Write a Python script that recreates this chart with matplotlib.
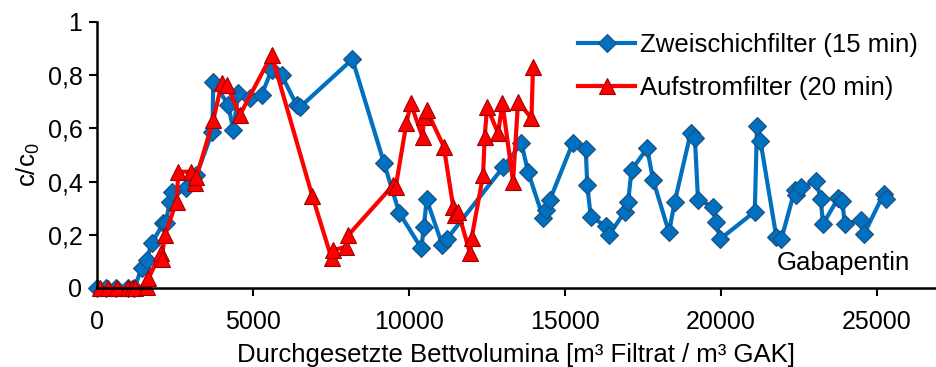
import matplotlib
matplotlib.use('Agg')
import matplotlib.pyplot as plt
from matplotlib.ticker import FuncFormatter

plt.rcParams['font.family'] = ['Liberation Sans', 'DejaVu Sans']
plt.rcParams['mathtext.fontset'] = 'custom'
plt.rcParams['mathtext.rm'] = 'Liberation Sans'
plt.rcParams['mathtext.it'] = 'Liberation Sans'

# Zweischichtfilter (15 min)
zs_x = [0, 300, 600, 1000, 1200, 1430, 1590, 1750, 2130, 2200, 2340, 2420, 2870, 3190,
        3700, 3730, 4210, 4370, 4530, 4900, 5280, 5600, 5920, 6400, 6510, 8190, 9200,
        9690, 10400, 10480, 10570, 11070, 11210, 13020, 13610, 13820, 14310, 14410,
        14520, 15250, 15670, 15720, 15830, 16310, 16420, 16920, 17030, 17140, 17640,
        17830, 18340, 18520, 19030, 19170, 19270, 19750, 19860, 19970, 21090, 21160,
        21270, 21780, 21940, 22370, 22420, 22580, 23060, 23200, 23280, 23760, 23900,
        23970, 24510, 24590, 25220, 25310]
zs_y = [0, 0, 0, 0, 0, 0.074, 0.105, 0.168, 0.243, 0.245, 0.325, 0.36, 0.375, 0.425,
        0.588, 0.776, 0.688, 0.594, 0.732, 0.713, 0.726, 0.82, 0.80, 0.688, 0.68, 0.86,
        0.471, 0.283, 0.149, 0.23, 0.333, 0.162, 0.183, 0.454, 0.544, 0.437, 0.262, 0.293,
        0.331, 0.544, 0.521, 0.387, 0.268, 0.233, 0.199, 0.287, 0.325, 0.444, 0.525,
        0.406, 0.209, 0.322, 0.581, 0.563, 0.331, 0.306, 0.249, 0.183, 0.287, 0.609,
        0.554, 0.193, 0.183, 0.368, 0.35, 0.378, 0.402, 0.335, 0.241, 0.337, 0.328,
        0.241, 0.256, 0.202, 0.353, 0.335]

# Aufstromfilter (20 min)
af_x = [100, 360, 630, 1000, 1110, 1220, 1590, 1650, 2040, 2070, 2180, 2550, 2610, 3030,
        3140, 3190, 3730, 4000, 4160, 4580, 5600, 6900, 7520, 7580, 8000, 8060, 9500,
        9580, 9920, 10060, 10440, 10480, 10570, 11120, 11420, 11470, 11580, 11960,
        12010, 12380, 12430, 12510, 12860, 13000, 13340, 13500, 13930, 13980]
af_y = [0, 0, 0, 0, 0, 0, 0.005, 0.036, 0.13, 0.11, 0.2, 0.325, 0.437, 0.437, 0.394,
        0.418, 0.632, 0.77, 0.763, 0.65, 0.876, 0.347, 0.112, 0.143, 0.155, 0.199, 0.387,
        0.381, 0.619, 0.694, 0.566, 0.642, 0.669, 0.531, 0.306, 0.274, 0.287, 0.130,
        0.187, 0.425, 0.569, 0.682, 0.581, 0.694, 0.40, 0.70, 0.638, 0.832]

fig = plt.figure(figsize=(9.36, 3.67), dpi=100)
ax = fig.add_axes([0.1036, 0.2153, 0.8964, 0.7248])

ax.plot(zs_x, zs_y, color='#0070C0', lw=3, marker='D', markersize=9,
        markerfacecolor='#0070C0', markeredgecolor='#1F4E79', markeredgewidth=0.8,
        label='Zweischichfilter (15 min)', clip_on=False)
ax.plot(af_x, af_y, color='#FF0000', lw=3, marker='^', markersize=11,
        markerfacecolor='#FF0000', markeredgecolor='#A00000', markeredgewidth=0.8,
        label='Aufstromfilter (20 min)', clip_on=False)

ax.set_xlim(0, 26900)
ax.set_ylim(0, 1)
ax.set_xticks(range(0, 25001, 5000))
ax.set_yticks([0, 0.2, 0.4, 0.6, 0.8, 1.0])
ax.yaxis.set_major_formatter(FuncFormatter(lambda v, p: ('%g' % round(v, 1)).replace('.', ',')))
ax.tick_params(labelsize=18, direction='out', length=5.5, width=1.5, color='black')
ax.tick_params(axis='x', pad=10)
ax.tick_params(axis='y', pad=5)
ax.spines['right'].set_visible(False)
ax.spines['top'].set_visible(False)
ax.spines['left'].set_linewidth(1.8)
ax.spines['bottom'].set_linewidth(1.8)

ax.set_xlabel('Durchgesetzte Bettvolumina [m³ Filtrat / m³ GAK]', fontsize=18.5, labelpad=7)
ax.set_ylabel('c/c$_0$', fontsize=18.5)
ax.yaxis.set_label_coords(-0.065, 0.462)
ax.text(26060, 0.094, 'Gabapentin', fontsize=18.5, ha='right', va='center')

ax.legend(loc='upper left', bbox_to_anchor=(0.618, 0.91), bbox_transform=fig.transFigure,
          frameon=False, fontsize=18.5, handlelength=2.2, handletextpad=0.2,
          labelspacing=0.75, borderpad=0, borderaxespad=0)

fig.savefig('out.png', dpi=100)
